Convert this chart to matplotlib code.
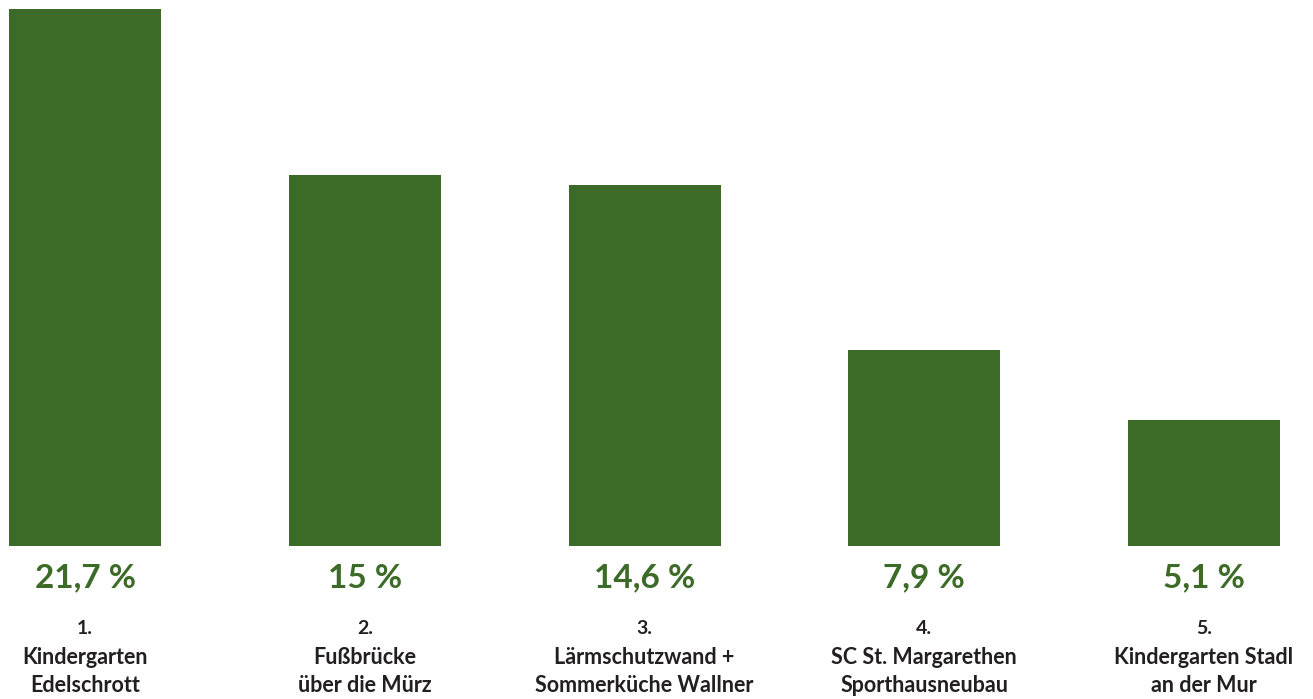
import matplotlib
matplotlib.use("Agg")
import matplotlib.pyplot as plt

ranks = ["1.", "2.", "3.", "4.", "5."]
names = [
    ["Kindergarten", "Edelschrott"],
    ["Fußbrücke", "über die Mürz"],
    ["Lärmschutzwand +", "Sommerküche Wallner"],
    ["SC St. Margarethen", "Sporthausneubau"],
    ["Kindergarten Stadl", "an der Mur"],
]
values = [21.7, 15, 14.6, 7.9, 5.1]
value_labels = ["21,7 %", "15 %", "14,6 %", "7,9 %", "5,1 %"]

green = "#3c6b27"
dark = "#231f20"

fig = plt.figure(figsize=(13.13, 6.99), dpi=100)
ax = fig.add_axes([0, 153 / 699, 1, 546 / 699])
x = list(range(len(values)))
ax.bar(x, values, width=152 / 279.75, color=green)
ax.set_xlim(-85 / 279.75, (1313 - 85) / 279.75)
ax.set_ylim(0, 546 / 24.75)
ax.axis("off")

pt = 0.72  # px -> points at 100 dpi
for i in x:
    ax.annotate(value_labels[i], (i, 0), xytext=(0, -32 * pt), textcoords="offset points",
                ha="center", va="center", fontsize=24, fontweight="bold",
                color=green, family="Lato")
    ax.annotate(ranks[i], (i, 0), xytext=(0, -82 * pt), textcoords="offset points",
                ha="center", va="center", fontsize=14, fontweight="bold",
                color=dark, family="Lato")
    for j, line in enumerate(names[i]):
        ax.annotate(line, (i, 0), xytext=(0, -(111 + 29 * j) * pt), textcoords="offset points",
                    ha="center", va="center", fontsize=15.5, fontweight="bold",
                    color=dark, family="Lato")

fig.savefig("out.png", dpi=100)
